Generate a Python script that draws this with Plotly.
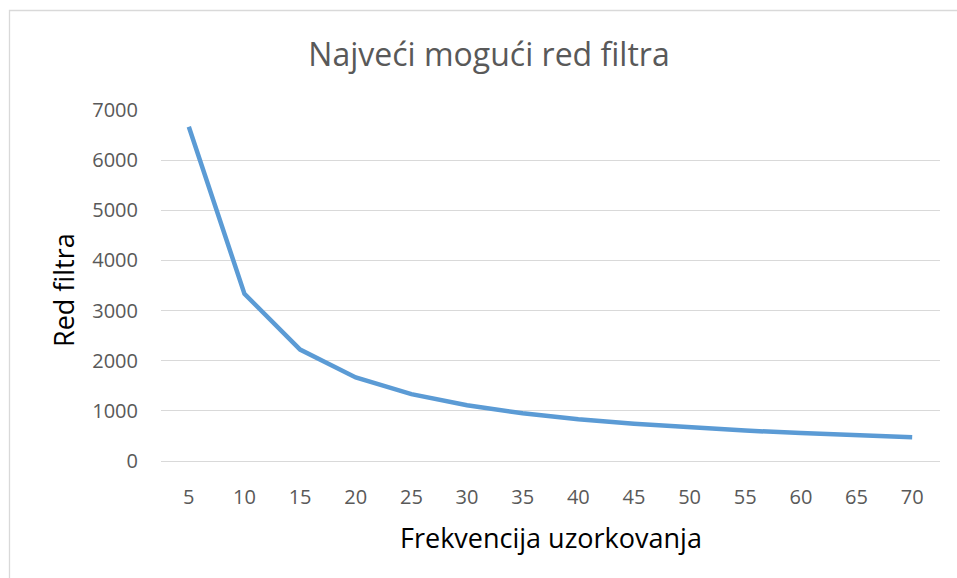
import plotly.graph_objects as go

# Sampling frequency categories and the maximum filter order for each
frekvencija = [5, 10, 15, 20, 25, 30, 35, 40, 45, 50, 55, 60, 65, 70]
red_filtra = [6667, 3333, 2222, 1667, 1333, 1111, 952, 833, 741, 667, 606, 556, 513, 476]
y_ticks = [0, 1000, 2000, 3000, 4000, 5000, 6000, 7000]

W, H = 957, 578
ML, MR, MT, MB = 161, 17, 110, 117
pw, ph = W - ML - MR, H - MT - MB

FONT = "Open Sans"
GRAY = "#595959"
GRID = "#D9D9D9"


def px_x(x):
    """pixel column -> paper x"""
    return (x - ML) / pw


def px_y(y):
    """pixel row -> paper y"""
    return (H - MB - y) / ph


fig = go.Figure(
    go.Scatter(
        x=[str(v) for v in frekvencija],
        y=red_filtra,
        mode="lines",
        line=dict(color="#5B9BD5", width=4.5),
        hoverinfo="x+y",
    )
)

# outer chart-area frame (cut off on the right and bottom)
fig.add_shape(
    type="rect", xref="paper", yref="paper",
    x0=px_x(9.5), x1=px_x(W + 10),
    y0=px_y(H + 10), y1=px_y(10.5),
    line=dict(color=GRID, width=1.3), fillcolor="rgba(0,0,0,0)", layer="below",
)

# axis titles
fig.add_annotation(
    text="Frekvencija uzorkovanja", xref="paper", yref="paper",
    x=px_x(551), y=px_y(537), xanchor="center", yanchor="middle",
    showarrow=False, font=dict(family=FONT, size=27, color="black"),
)
fig.add_annotation(
    text="Red filtra", xref="paper", yref="paper",
    x=px_x(63), y=px_y(290), xanchor="center", yanchor="middle",
    textangle=-90, showarrow=False,
    font=dict(family=FONT, size=27, color="black"),
)

fig.update_layout(
    width=W, height=H,
    margin=dict(l=ML, r=MR, t=MT, b=MB),
    paper_bgcolor="white", plot_bgcolor="white",
    showlegend=False,
    font=dict(family=FONT, color=GRAY),
    title=dict(
        text="Najveći mogući red filtra",
        x=489 / W, xanchor="center",
        y=1 - 55 / H, yanchor="middle",
        font=dict(family=FONT, size=32, color=GRAY),
    ),
    xaxis=dict(
        type="category",
        range=[-0.5, len(frekvencija) - 0.5],
        showgrid=False, zeroline=False, showline=False,
        ticks="", ticklabelstandoff=22,
        tickfont=dict(family=FONT, size=20, color=GRAY),
    ),
    yaxis=dict(
        range=[0, 7000],
        tickvals=y_ticks,
        showgrid=True, gridcolor=GRID, gridwidth=1.3,
        zeroline=True, zerolinecolor=GRID, zerolinewidth=1.3,
        showline=False, ticks="", ticklabelstandoff=22,
        tickfont=dict(family=FONT, size=20, color=GRAY),
    ),
)

fig.write_html("out.html")
